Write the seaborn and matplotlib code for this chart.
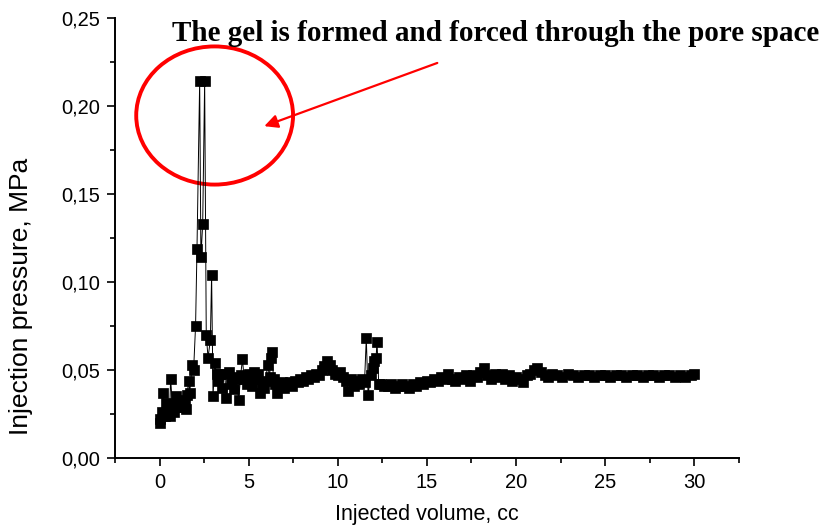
import numpy as np
import pandas as pd
import matplotlib
matplotlib.use("Agg")
import matplotlib.pyplot as plt
import seaborn as sns
from matplotlib.patches import Ellipse
from matplotlib.ticker import MultipleLocator

# ---- data ----
volume = [
    0.0, 0.05, 0.15, 0.19, 0.28, 0.38, 0.45, 0.56, 0.62, 0.72, 0.82, 0.94, 1.05, 1.15,
    1.3, 1.4, 1.46, 1.55, 1.63, 1.69, 1.83, 1.91,
    2.02, 2.10, 2.25, 2.32, 2.42, 2.53, 2.62, 2.72, 2.85, 2.92,
    3.0, 3.09, 3.2, 3.27, 3.37, 3.5, 3.65, 3.75, 3.88, 4.0, 4.1, 4.2, 4.3, 4.44,
    4.55, 4.65, 4.75, 4.88, 5.0, 5.1, 5.2, 5.3, 5.4, 5.5, 5.62, 5.75, 5.85, 5.95,
    6.07, 6.17, 6.24, 6.29, 6.4, 6.5, 6.57, 6.7, 6.85, 7.0,
    7.15, 7.3, 7.45, 7.6, 7.75, 7.9, 8.05, 8.2, 8.35, 8.5, 8.65, 8.8, 8.95, 9.1,
    9.25, 9.4, 9.55, 9.7, 9.85, 10.0, 10.15, 10.3, 10.45, 10.6, 10.75, 10.9, 11.05,
    11.2, 11.35, 11.5, 11.6, 11.7, 11.85, 11.95, 12.05, 12.15, 12.2, 12.3,
    12.4, 12.6, 12.8, 13.0, 13.2, 13.4, 13.6, 13.8, 14.0, 14.2, 14.4, 14.6, 14.8,
    15.0, 15.2, 15.4, 15.6, 15.8, 16.0, 16.2, 16.4, 16.6, 16.8, 17.0, 17.2, 17.4,
    17.6, 17.8, 18.0, 18.2, 18.4, 18.6, 18.8, 19.0, 19.2, 19.4, 19.6, 19.8, 20.0,
    20.2, 20.4, 20.6, 20.8, 21.0, 21.2, 21.4, 21.6, 21.8, 22.0, 22.3, 22.6, 22.9,
    23.2, 23.5, 23.8, 24.1, 24.4, 24.7, 25.0, 25.3, 25.6, 25.9, 26.2, 26.5, 26.8,
    27.1, 27.4, 27.7, 28.0, 28.3, 28.6, 28.9, 29.2, 29.5, 29.8, 30.0,
]
pressure = [
    0.020, 0.022, 0.026, 0.037, 0.024, 0.031, 0.027, 0.024, 0.045, 0.030, 0.026, 0.035, 0.031, 0.029,
    0.029, 0.033, 0.028, 0.036, 0.044, 0.037, 0.053, 0.050,
    0.075, 0.119, 0.214, 0.114, 0.133, 0.214, 0.070, 0.057, 0.067, 0.104,
    0.035, 0.054, 0.048, 0.044, 0.048, 0.040, 0.048, 0.034, 0.049, 0.042, 0.046, 0.039, 0.045, 0.033,
    0.047, 0.056, 0.045, 0.042, 0.048, 0.044, 0.041, 0.049, 0.045, 0.048, 0.037, 0.042, 0.040, 0.044,
    0.053, 0.046, 0.057, 0.060, 0.045, 0.042, 0.037, 0.041, 0.043, 0.040,
    0.042, 0.043, 0.041, 0.044, 0.043, 0.045, 0.044, 0.046, 0.045, 0.047, 0.046, 0.048, 0.047, 0.050,
    0.052, 0.055, 0.053, 0.050, 0.048, 0.047, 0.049, 0.046, 0.044, 0.038, 0.045, 0.041, 0.044,
    0.042, 0.045, 0.043, 0.068, 0.036, 0.047, 0.051, 0.055, 0.057, 0.066, 0.042,
    0.042, 0.041, 0.041, 0.042, 0.040, 0.041, 0.042, 0.041, 0.040, 0.042, 0.041, 0.043, 0.042,
    0.044, 0.043, 0.045, 0.044, 0.046, 0.045, 0.048, 0.045, 0.044, 0.046, 0.045, 0.047, 0.044,
    0.047, 0.046, 0.049, 0.051, 0.047, 0.045, 0.048, 0.046, 0.048, 0.045, 0.047, 0.044, 0.046,
    0.045, 0.043, 0.047, 0.048, 0.050, 0.051, 0.049, 0.047, 0.046, 0.048, 0.047, 0.046, 0.048,
    0.047, 0.046, 0.047, 0.047, 0.046, 0.047, 0.047, 0.046, 0.047, 0.047, 0.046, 0.047, 0.047,
    0.046, 0.047, 0.047, 0.046, 0.047, 0.047, 0.046, 0.047, 0.046, 0.047, 0.048,
]

x_ticks = [0, 5, 10, 15, 20, 25, 30]
x_tick_labels = ["0", "5", "10", "15", "20", "25", "30"]
y_ticks = [0.00, 0.05, 0.10, 0.15, 0.20, 0.25]
y_tick_labels = ["0,00", "0,05", "0,10", "0,15", "0,20", "0,25"]

annotation_text = "The gel is formed and forced through the pore space"

df = pd.DataFrame({"volume": volume, "pressure": pressure})

# ---- plot ----
sns.set_theme(style="ticks")
plt.rcParams["font.family"] = ["Liberation Sans", "DejaVu Sans"]

fig = plt.figure(figsize=(8.31, 5.28), dpi=100)
ax = fig.add_axes([0.1384, 0.1326, 0.889 - 0.1384, 0.9659 - 0.1326])

sns.lineplot(data=df, x="volume", y="pressure", ax=ax, sort=False, estimator=None,
             color="black", linewidth=0.7, marker="s", markersize=7.8,
             markeredgecolor="black", markerfacecolor="black", markeredgewidth=0.5)

ax.set_xlim(-2.5, 32.5)
ax.set_ylim(0, 0.25)
ax.set_xticks(x_ticks)
ax.set_xticklabels(x_tick_labels)
ax.set_yticks(y_ticks)
ax.set_yticklabels(y_tick_labels)
ax.xaxis.set_minor_locator(MultipleLocator(2.5))
ax.yaxis.set_minor_locator(MultipleLocator(0.025))
ax.tick_params(which="major", direction="out", length=6, width=1.2, labelsize=14.5,
               color="black", labelcolor="black", pad=4.5)
ax.tick_params(which="minor", direction="out", length=3.5, width=1.2, color="black")
for side in ["top", "right"]:
    ax.spines[side].set_visible(False)
for side in ["left", "bottom"]:
    ax.spines[side].set_linewidth(1.4)
    ax.spines[side].set_color("black")

ax.set_xlabel("Injected volume, cc", fontsize=15.5, color="black")
ax.set_ylabel("Injection pressure, MPa", fontsize=19, color="black")
ax.xaxis.label.set_va("center")
ax.yaxis.label.set_va("center")
ax.yaxis.label.set_ha("center")
ax.xaxis.set_label_coords((427 - 115) / 624, (458 - 515) / 440)
ax.yaxis.set_label_coords((21 - 115) / 624, (458 - 296) / 440)

ell = Ellipse((3.09, 0.1946), width=8.8, height=0.0785, fill=False,
              edgecolor="red", linewidth=2.8, clip_on=False)
ax.add_patch(ell)
ax.annotate("", xy=(5.73, 0.188), xytext=(15.73, 0.225),
            arrowprops=dict(arrowstyle="-|>", color="red", lw=1.6, mutation_scale=20),
            annotation_clip=False)

fig.text(172 / 831, 1 - 41 / 528, annotation_text, family=["Liberation Serif", "DejaVu Serif"],
         weight="bold", fontsize=21.0, va="baseline", ha="left", color="black")

fig.savefig("out.png", dpi=100)
